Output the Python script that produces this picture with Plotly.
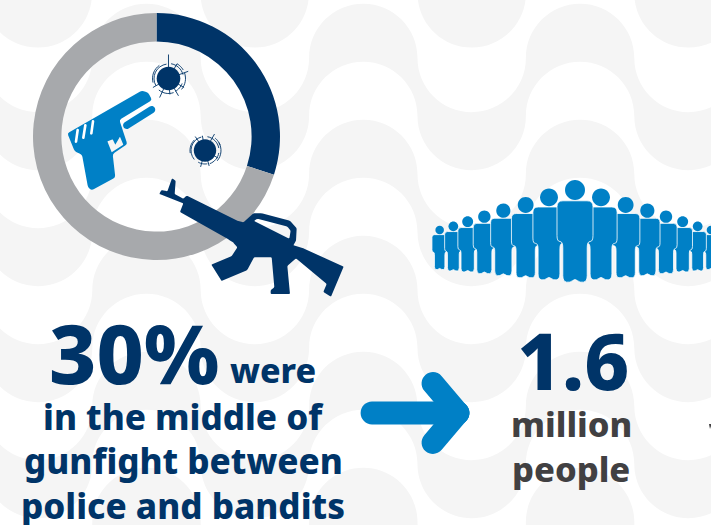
import math
import plotly.graph_objects as go

W, H = 711, 525
NAVY = "#003468"
BLUE = "#0080c6"
RING_GREY = "#a7a9ac"
WAVE_GREY = "#f5f5f5"
DARK = "#414042"
FONT = "Noto Sans"

# Ring values
shares = [30, 70]
share_labels = ["In the middle of gunfight", "Other"]
share_colors = [NAVY, RING_GREY]

# Text blocks
headline = "30%"
headline_tail = "were"
caption_lines = ["in the middle of", "gunfight between", "police and bandits"]
count_value = "1.6"
count_lines = ["million", "people"]


def P(x, y):
    return f"{x / W:.5f},{1 - y / H:.5f}"


def path_shape(path, fill=None, line=None, lw=0, layer="above"):
    return dict(
        type="path", xref="paper", yref="paper", path=path, layer=layer,
        fillcolor=fill or "rgba(0,0,0,0)",
        line=dict(color=line or "rgba(0,0,0,0)", width=lw),
    )


K = 0.5523


def half_circle(x0, y, r, sign, direction=1):
    """Semicircle between (x0, y) and (x0 + 2r*direction, y); sign=-1 bulges upward on screen."""
    d = direction
    return (
        f"C{P(x0, y + sign * K * r)} {P(x0 + d * (r - K * r), y + sign * r)} {P(x0 + d * r, y + sign * r)} "
        f"C{P(x0 + d * (r + K * r), y + sign * r)} {P(x0 + 2 * d * r, y + sign * K * r)} {P(x0 + 2 * d * r, y)} "
    )


def circle_path(cx, cy, r):
    return f"M{P(cx - r, cy)} " + half_circle(cx - r, cy, r, -1) + half_circle(cx + r, cy, r, 1, -1) + "Z"


def rounded_poly(points, r=1.5):
    """Closed polygon whose corners are softened with quadratic curves."""
    n = len(points)
    out = []
    for i in range(n):
        p0, p1, p2 = points[i - 1], points[i], points[(i + 1) % n]
        pts = []
        for q in (p0, p2):
            dx, dy = q[0] - p1[0], q[1] - p1[1]
            d = math.hypot(dx, dy) or 1
            t = min(r, d / 2)
            pts.append((p1[0] + dx / d * t, p1[1] + dy / d * t))
        out.append(("M" if i == 0 else "L") + P(*pts[0]) + " Q" + P(*p1) + " " + P(*pts[1]))
    return " ".join(out) + " Z"


def capsule(x1, y1, x2, y2, r):
    """Stadium shape around the segment (x1,y1)-(x2,y2)."""
    a = math.atan2(y2 - y1, x2 - x1)
    nx, ny = -math.sin(a) * r, math.cos(a) * r
    ux, uy = math.cos(a) * r, math.sin(a) * r
    return (
        f"M{P(x1 + nx, y1 + ny)} L{P(x2 + nx, y2 + ny)} "
        f"C{P(x2 + nx + K * ux, y2 + ny + K * uy)} {P(x2 + ux + K * nx, y2 + uy + K * ny)} {P(x2 + ux, y2 + uy)} "
        f"C{P(x2 + ux - K * nx, y2 + uy - K * ny)} {P(x2 - nx + K * ux, y2 - ny + K * uy)} {P(x2 - nx, y2 - ny)} "
        f"L{P(x1 - nx, y1 - ny)} "
        f"C{P(x1 - nx - K * ux, y1 - ny - K * uy)} {P(x1 - ux - K * nx, y1 - uy - K * ny)} {P(x1 - ux, y1 - uy)} "
        f"C{P(x1 - ux + K * nx, y1 - uy + K * ny)} {P(x1 + nx - K * ux, y1 + ny - K * uy)} {P(x1 + nx, y1 + ny)} Z"
    )


shapes = []

# Wavy backdrop: alternating semicircles form repeating ribbons
R = 54.2
PITCH = 2 * R
FIRST_JUNCTION = 363.3 - R - 4 * PITCH


def wave_band(top_y, bottom_y):
    count = 10
    path = f"M{P(FIRST_JUNCTION, top_y)} "
    x = FIRST_JUNCTION
    for i in range(count):
        path += half_circle(x, top_y, R, -1 if i % 2 == 0 else 1)
        x += PITCH
    path += f"L{P(x, bottom_y)} "
    for i in range(count - 1, -1, -1):
        path += half_circle(x, bottom_y, R, -1 if i % 2 == 0 else 1, -1)
        x -= PITCH
    return path + "Z"


for top in (58, 174, 290, 406, 522):
    shapes.append(path_shape(wave_band(top, top + 58), fill=WAVE_GREY, layer="below"))
for cx in (37.8, 254.7, 471.7, 688.5):
    shapes.append(path_shape(circle_path(cx, -6.6, R), fill=WAVE_GREY, layer="below"))


# Pistol, traced on a 3x grid
def gz(X, Y):
    return (60 + X / 3, 50 + Y / 3)


pistol = [(22, 250), (245, 122), (265, 128), (276, 150), (178, 210), (202, 282), (158, 312),
          (166, 382), (95, 421), (84, 412), (66, 314), (44, 304)]
shapes.append(path_shape(
    rounded_poly([gz(*p) for p in pistol], 2.2)
    + " " + rounded_poly([gz(*p) for p in [(142, 274), (158, 268), (166, 284), (180, 260), (190, 284), (155, 307)]], 0.5),
    fill=BLUE))
shapes.append(path_shape(capsule(*gz(200, 226), *gz(275, 179), 3.6), fill=BLUE))
for a, b in (((53, 240), (48, 275)), ((76, 226), (70, 263)), ((99, 214), (94, 250))):
    shapes.append(path_shape(capsule(*gz(*a), *gz(*b), 1.3), fill="white"))


# Bullet holes: dark core, ring fragments and radial cracks
def bullet_hole(cx, cy, r, arcs, spikes):
    shapes.append(path_shape(circle_path(cx, cy, r), fill=NAVY))
    for rad, a0, a1 in arcs:
        steps = 8
        pts = [(cx + rad * math.cos(math.radians(a0 + (a1 - a0) * i / steps)),
                cy + rad * math.sin(math.radians(a0 + (a1 - a0) * i / steps))) for i in range(steps + 1)]
        shapes.append(path_shape("M" + " L".join(P(*p) for p in pts), line=NAVY, lw=0.9))
    for angle, r0, r1 in spikes:
        c, s = math.cos(math.radians(angle)), math.sin(math.radians(angle))
        shapes.append(path_shape(f"M{P(cx + r0 * c, cy + r0 * s)} L{P(cx + r1 * c, cy + r1 * s)}", line=NAVY, lw=0.9))


bullet_hole(168.5, 78.5, 11.8,
            [(14.5, 150, 262), (16, 165, 235), (15, 280, 345), (17, 340, 400), (14.5, 20, 62), (15, 70, 130), (17, 300, 330)],
            [(-90, 11, 24), (-20, 11, 21), (60, 11, 20), (115, 11, 21), (150, 11, 18), (-60, 11, 17), (30, 11, 18), (85, 11, 16)])
bullet_hole(205, 150.5, 11.2,
            [(14, 140, 255), (15, 170, 225), (14, 280, 350), (16, 330, 400), (14, 10, 70), (13.5, 80, 120), (16, 310, 340)],
            [(-60, 10, 19), (-125, 10, 17), (105, 10, 17), (75, 10, 16), (30, 10, 15), (-100, 10, 15)])


# Rifle, traced on a 3x grid
def rz(X, Y):
    return (150 + X / 3, 170 + Y / 3)


rifle = [(28, 72), (34, 60), (52, 64), (66, 25), (77, 32), (74, 72), (100, 86), (110, 77), (262, 152),
         (280, 157), (310, 130), (335, 130), (420, 152), (440, 175), (438, 212), (430, 226), (460, 235),
         (581, 290), (543, 380), (520, 366), (530, 342), (438, 265), (412, 288), (420, 372), (362, 372),
         (362, 360), (373, 352), (365, 262), (312, 262), (292, 300), (215, 333), (184, 284),
         (245, 258), (262, 232), (250, 218), (235, 208), (90, 126), (100, 100)]
shapes.append(path_shape(
    rounded_poly([rz(*p) for p in rifle], 1.0)
    + " " + rounded_poly([rz(*p) for p in [(312, 153), (322, 146), (412, 170), (422, 182), (418, 206)]], 1.2),
    fill=NAVY))


# Crowd of figures: every entry is (head x, head y, foot y) on a 3x grid
def cz(X, Y):
    return (425 + X / 3, 170 + Y / 3)


crowd = [(44, 180, 298), (858, 180, 298), (85, 169, 302), (818, 169, 302), (128, 155, 305), (773, 155, 305),
         (178, 140, 310), (723, 140, 310), (235, 122, 316), (667, 122, 316), (302, 105, 322), (602, 105, 322),
         (372, 82, 328), (528, 82, 328), (450, 60, 335)]


def figure_paths(hx, hy, foot):
    s = (foot - hy) / 275
    cx, cy = cz(hx, hy)
    px = lambda a, b: (cx + a * s, cy + b * s)
    body = [(-18, 10.8), (18, 10.8), (18, 51.5), (12.2, 51.5), (12.2, 91.5),
            (4.8, 92.8), (0, 88.5), (-4.8, 92.8), (-12.2, 91.5), (-12.2, 51.5), (-18, 51.5)]
    return rounded_poly([px(*p) for p in body], 6 * s), circle_path(cx, cy, 10 * s)


for hx, hy, foot in crowd:
    body, head = figure_paths(hx, hy, foot)
    shapes.append(path_shape(body, fill=BLUE, line="white", lw=0.8))
    shapes.append(path_shape(head, fill=BLUE))

# Arrow between the two statements
for a, b in (((372, 413), (458, 413)), ((433, 383.5), (458, 413)), ((433, 442.5), (458, 413))):
    shapes.append(path_shape(capsule(*a, *b, 11.4), fill=BLUE))

# Sliver of the neighbouring text at the right edge
shapes.append(path_shape(f"M{P(709, 424)} L{P(711, 424)} L{P(711, 426)} L{P(710, 429)} Z", fill=DARK))


def label(text, x, y, size, color=NAVY):
    return dict(text=text, x=x / W, y=1 - y / H, xref="paper", yref="paper",
                xanchor="center", yanchor="middle", showarrow=False,
                font=dict(family=FONT, size=size, color=color, weight=800))


annotations = [
    label(headline, 134, 352, 82),
    label(headline_tail, 273, 370, 34),
    label(caption_lines[0], 183, 416, 35),
    label(caption_lines[1], 183, 460, 35),
    label(caption_lines[2], 183, 505, 35),
    label(count_value, 573, 360, 78),
    label(count_lines[0], 571, 423, 34.5, DARK),
    label(count_lines[1], 571, 468, 34.5, DARK),
]

fig = go.Figure(go.Pie(
    values=shares, labels=share_labels, sort=False, direction="clockwise", rotation=0,
    hole=0.77, textinfo="none", showlegend=False,
    marker=dict(colors=share_colors, line=dict(width=0)),
    domain=dict(x=[33 / W, 280 / W], y=[1 - 260 / H, 1 - 13 / H]),
))
fig.update_layout(
    width=W, height=H, margin=dict(l=0, r=0, t=0, b=0),
    paper_bgcolor="white", plot_bgcolor="white",
    shapes=shapes, annotations=annotations, showlegend=False,
)
fig.write_html("out.html", config={"displayModeBar": False})
